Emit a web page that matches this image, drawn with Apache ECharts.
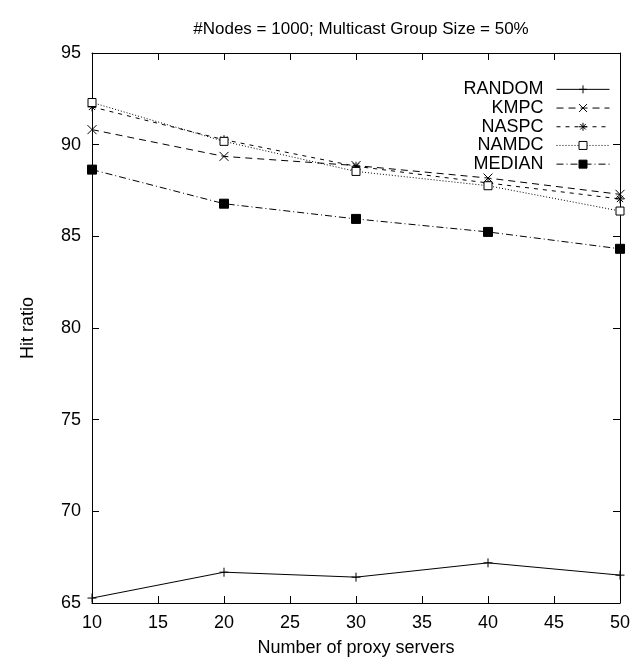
<!DOCTYPE html>
<html>
<head>
<meta charset="utf-8">
<script src="https://cdn.jsdelivr.net/npm/echarts@6/dist/echarts.min.js"></script>
<style>
  html, body { margin: 0; padding: 0; background: #fff; }
  #chart { width: 642px; height: 662px; }
</style>
</head>
<body>
<div id="chart"></div>
<script>
// x positions: number of proxy servers
const proxyServers = [10, 20, 30, 40, 50];

// hit ratio values
const random = [65.27, 66.68, 66.41, 67.19, 66.52];
const kmpc   = [90.82, 89.36, 88.86, 88.18, 87.29];
const naspc  = [92.06, 90.27, 88.82, 87.91, 87.04];
const namdc  = [92.30, 90.18, 88.54, 87.76, 86.38];
const median = [88.64, 86.78, 85.95, 85.24, 84.32];

const chartTitle = '#Nodes = 1000; Multicast Group Size = 50%';
const FONT = '"Liberation Sans", Arial, sans-serif';

const chart = echarts.init(document.getElementById('chart'));

const pairs = ys => proxyServers.map((x, i) => [x, ys[i]]);

const mkSeries = (name, ys, symbol, size, dash, fill) => ({
  name,
  type: 'line',
  data: pairs(ys),
  symbol,
  symbolSize: size,
  clip: false,
  animation: false,
  lineStyle: { color: '#000', width: 1, type: dash },
  itemStyle: { color: fill, borderColor: '#000', borderWidth: 1 }
});

const plusPath = 'path://M0,5L10,5M5,0L5,10';
const crossPath = 'path://M0,0L10,10M10,0L0,10';
const starPath = 'path://M0,5L10,5M5,0L5,10M1.5,1.5L8.5,8.5M8.5,1.5L1.5,8.5';

const tickStyle = { inside: true, length: 7, lineStyle: { color: '#000' } };
const lineStyle = { lineStyle: { color: '#000', width: 1 } };

chart.setOption({
  backgroundColor: '#fff',
  animation: false,
  title: {
    text: chartTitle,
    left: 356,
    top: 16,
    textAlign: 'center',
    textStyle: { fontFamily: FONT, fontSize: 17, fontWeight: 'normal', color: '#000' }
  },
  grid: { left: 92, right: 22, top: 53, bottom: 59, containLabel: false },
  legend: {
    orient: 'vertical',
    right: 27,
    top: 75,
    align: 'right',
    itemWidth: 53,
    itemHeight: 10,
    itemGap: 0,
    lineStyle: { width: 1 },
    itemStyle: { borderWidth: 1 },
    textStyle: { fontFamily: FONT, fontSize: 18, color: '#000', lineHeight: 18.7, padding: [0, 8, 0, 0] },
    data: ['RANDOM', 'KMPC', 'NASPC', 'NAMDC', 'MEDIAN']
  },
  xAxis: [
    {
      type: 'value', min: 10, max: 50, interval: 5,
      name: 'Number of proxy servers', nameLocation: 'middle', nameGap: 36,
      nameTextStyle: { fontFamily: FONT, fontSize: 18, color: '#000' },
      axisLine: lineStyle, axisTick: tickStyle,
      axisLabel: { fontFamily: FONT, fontSize: 18, color: '#000', margin: 11 },
      splitLine: { show: false }
    },
    {
      type: 'value', min: 10, max: 50, interval: 5, position: 'top',
      axisLine: lineStyle, axisTick: tickStyle,
      axisLabel: { show: false }, splitLine: { show: false }
    }
  ],
  yAxis: [
    {
      type: 'value', min: 65, max: 95, interval: 5,
      name: 'Hit ratio', nameLocation: 'middle', nameGap: 55, nameRotate: 90,
      nameTextStyle: { fontFamily: FONT, fontSize: 18, color: '#000' },
      axisLine: { show: true, ...lineStyle }, axisTick: tickStyle,
      axisLabel: { fontFamily: FONT, fontSize: 18, color: '#000', margin: 11 },
      splitLine: { show: false }
    },
    {
      type: 'value', min: 65, max: 95, interval: 5, position: 'right',
      axisLine: { show: true, ...lineStyle }, axisTick: tickStyle,
      axisLabel: { show: false }, splitLine: { show: false }
    }
  ],
  series: [
    mkSeries('RANDOM', random, plusPath, 9, 'solid', 'transparent'),
    mkSeries('KMPC', kmpc, crossPath, 9, [7, 5], 'transparent'),
    mkSeries('NASPC', naspc, starPath, 9, [4, 5], 'transparent'),
    mkSeries('NAMDC', namdc, 'rect', 8, [1, 2], '#fff'),
    mkSeries('MEDIAN', median, 'rect', 9, [7, 3, 1, 3], '#000')
  ]
});
</script>
</body>
</html>
